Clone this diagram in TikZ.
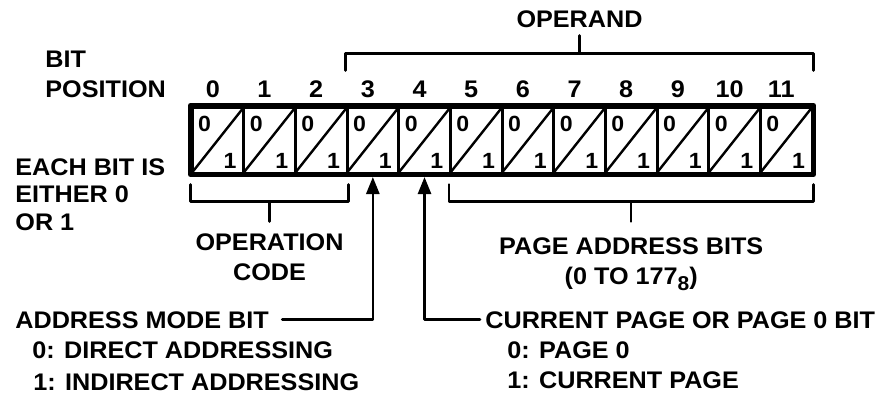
\documentclass[tikz,border=0pt]{standalone}
\usepackage{fontspec}
\setmainfont{Liberation Sans}[FakeStretch=1.05]
\usetikzlibrary{positioning,calc,arrows.meta}
\begin{document}
\begin{tikzpicture}[x=0.5pt,y=-0.5pt,line join=round,line cap=round,font=\fontsize{12}{15}\selectfont\bfseries,>={Triangle[length=8.5pt,width=6.5pt]},
  cell/.style={draw,line width=1.5pt,minimum width=25.83pt,minimum height=33pt,inner sep=0pt},
  lbl/.style={anchor=base west,inner sep=0pt},
  num/.style={anchor=base,inner sep=0pt},
  bit/.style={inner sep=0pt,font=\fontsize{11}{11}\selectfont\bfseries},
  brace/.style={line width=1.3pt}]
\useasboundingbox (0,0) rectangle (880,397);
% register cells
\foreach \i in {0,...,11}{
  \node[cell] (c\i) at ({192+51.67*(\i+0.5)},140) {};
  \draw[line width=1.2pt] (c\i.south west)--(c\i.north east);
  \node[bit] (z\i) at ([xshift=7pt,yshift=-9pt]c\i.north west) {0};
  \node[bit] (o\i) at ([xshift=-7.5pt,yshift=7pt]c\i.south east) {1};
  \node[num] (n\i) at ({192+51.67*(\i+0.5)-5},97) {\i};
}
\draw[line width=2.5pt] (c0.north west) rectangle (c11.south east);
\node[lbl] (bit) at (45,67) {BIT};
\node[lbl] (pos) at (45,97) {POSITION};
\node[lbl] (each) at (15,175) {EACH BIT IS};
\node[lbl] (either) at (15,202) {EITHER 0};
\node[lbl] (orone) at (15,230) {OR 1};
% operand
\draw[brace] ($(c3.north west)+(0,-35)$) -- ++(0,-17) coordinate (opl) -| ($(c11.north east)+(0,-35)$);
\coordinate (opmid) at ($(opl)!.5!(opl -| c11.north east)$);
\draw[brace] (opmid) -- ++(0,-18) coordinate (opt);
\node[above=3.5pt of opt,inner sep=0pt] (operand) {OPERAND};
% operation code
\draw[brace] ($(c0.south west)+(0,10)$) -- ++(0,17) coordinate (ocl) -| ($(c2.south east)+(0,10)$);
\coordinate (ocmid) at ($(ocl)!.5!(ocl -| c2.south east)$);
\draw[brace] (ocmid) -- ++(0,20) coordinate (oct);
\node[below=6pt of oct,inner sep=0pt,align=center] (opcode) {OPERATION\\CODE};
% page address
\draw[brace] ($(c5.south west)+(0,10)$) -- ++(0,17) coordinate (pal) -| ($(c11.south east)+(0,10)$);
\coordinate (pamid) at ($(pal)!.5!(pal -| c11.south east)$);
\draw[brace] (pamid) -- ++(0,20) coordinate (pat);
\node[below=8pt of pat,inner sep=0pt,align=center] (pagead) {PAGE ADDRESS BITS\\(0 TO 177\raisebox{-3pt}{\fontsize{10}{10}\selectfont 8})};
% address mode bit
\node[lbl] (amb) at (15,328) {ADDRESS MODE BIT};
\node[lbl] (amb0) at (32,358) {0: DIRECT ADDRESSING};
\node[lbl] (amb1) at (33,390) {1: INDIRECT ADDRESSING};
\draw[->,brace] ([xshift=6.5pt]amb.east) -| ([yshift=-1.25pt]c3.south);
% current page bit
\node[lbl] (cpb) at (485,328) {CURRENT PAGE OR PAGE 0 BIT};
\node[lbl] (cpb0) at (507,358) {0: PAGE 0};
\node[lbl] (cpb1) at (507,388) {1: CURRENT PAGE};
\draw[->,brace] ([xshift=-2.5pt]cpb.west) -| ([yshift=-1.25pt]c4.south);
\end{tikzpicture}
\end{document}
